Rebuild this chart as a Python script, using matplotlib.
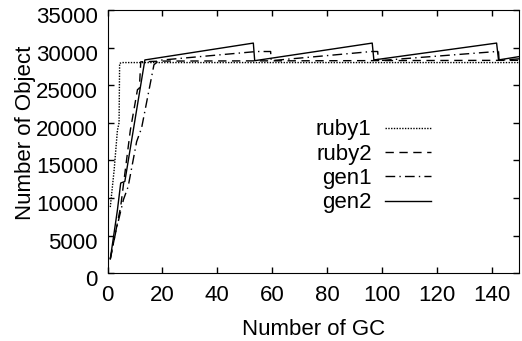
import matplotlib
matplotlib.use('Agg')
import matplotlib.pyplot as plt
from matplotlib.transforms import ScaledTranslation

plt.rcParams['font.family'] = ['Liberation Sans', 'DejaVu Sans']
plt.rcParams['font.size'] = 16

# data
ruby1_x = [1, 2.4, 3.6, 4.2, 4.4, 5.4, 150]
ruby1_y = [8800, 13700, 19000, 20000, 27900, 28000, 28000]

ruby2_x = [1, 4.8, 8.3, 10.9, 11.6, 12.1, 20, 150]
ruby2_y = [1900, 8900, 19000, 24400, 24600, 28100, 28200, 28300]

gen1_x = [1, 3, 5.8, 7.5, 10.6, 12.4, 16.9, 18.7, 54.3, 59.4, 59.6,
          96.2, 98.4, 98.6, 141.7, 142.4, 142.6, 150]
gen1_y = [1900, 5500, 9800, 11500, 17500, 19300, 27700, 28300, 29470, 29470, 28250,
          29470, 29470, 28250, 29470, 29470, 28300, 28500]

gen2_x = [1, 3.6, 4.8, 6.3, 9.4, 13.6, 53.1, 53.6, 96.4, 97.0, 141.7, 142.4, 150]
gen2_y = [1900, 8400, 12000, 12200, 19060, 28350, 30590, 28250, 30590, 28350,
          30590, 28350, 28800]

x_ticks = [0, 20, 40, 60, 80, 100, 120, 140]
y_ticks = [0, 5000, 10000, 15000, 20000, 25000, 30000, 35000]

fig = plt.figure(figsize=(5.22, 3.41), dpi=100)
ax = fig.add_axes([0.206, 0.1985, 0.789, 0.7725])

ax.plot(ruby1_x, ruby1_y, color='black', lw=1, linestyle=(0, (1, 1)), label='ruby1')
ax.plot(ruby2_x, ruby2_y, color='black', lw=1, linestyle=(0, (6, 4)), label='ruby2')
ax.plot(gen1_x, gen1_y, color='black', lw=1, linestyle=(0, (7, 3, 1, 3)), label='gen1')
ax.plot(gen2_x, gen2_y, color='black', lw=1, linestyle='-', label='gen2')

ax.set_xlim(0, 150)
ax.set_ylim(0, 35000)
ax.set_xticks(x_ticks)
ax.set_yticks(y_ticks)
ax.tick_params(direction='in', length=4, width=1, top=True, right=True)
ax.tick_params(axis='x', pad=8.5)
ax.tick_params(axis='y', pad=7)

# gnuplot puts the y tick labels a few pixels below the ticks
shift = ScaledTranslation(0, -5 / 100, fig.dpi_scale_trans)
for lab in ax.get_yticklabels():
    lab.set_transform(lab.get_transform() + shift)

ax.set_xlabel('Number of GC', labelpad=9)
ax.set_ylabel('Number of Object', ha='center', va='center')
ax.yaxis.set_label_coords(-0.200, 0.533)

ax.legend(loc='center', bbox_to_anchor=(0.715, 0.512), bbox_transform=fig.transFigure,
          frameon=False, markerfirst=False, handlelength=2.05, handletextpad=0.6,
          labelspacing=0.15, borderpad=0)

fig.savefig('out.png', dpi=100)
